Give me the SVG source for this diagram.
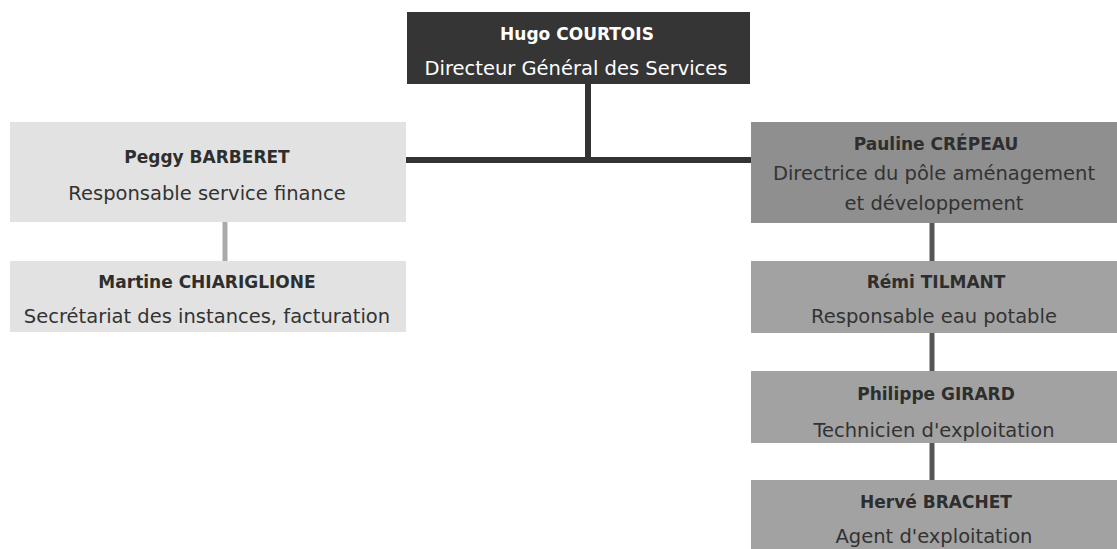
<svg xmlns="http://www.w3.org/2000/svg" width="1117" height="549" viewBox="0 0 1117 549">
<style>
  .name { font-family: "DejaVu Sans", "Liberation Sans", sans-serif; font-weight: bold; font-size: 17px; text-anchor: middle; fill: #2e2e2e; }
  .role { font-family: "DejaVu Sans", "Liberation Sans", sans-serif; font-size: 19.5px; text-anchor: middle; fill: #333; }
  .top .name, .top .role { fill: #ffffff; }
  .boxTop { fill: #353535; }
  .boxLight { fill: #e2e2e2; }
  .boxDark { fill: #8f8f8f; }
  .boxMid { fill: #a2a2a2; }
  .lnMain { stroke: #333; stroke-width: 6; fill: none; }
  .lnLight { stroke: #aaaaaa; stroke-width: 5; fill: none; }
  .lnRight { stroke: #555; stroke-width: 5; fill: none; }
</style>
<rect width="1117" height="549" fill="#ffffff"/>
<g id="connectors">
  <line class="lnMain" x1="588" y1="84" x2="588" y2="160"/>
  <line class="lnMain" x1="406" y1="160" x2="752" y2="160"/>
  <line class="lnLight" x1="225" y1="222" x2="225" y2="261"/>
  <line class="lnRight" x1="932" y1="223" x2="932" y2="261"/>
  <line class="lnRight" x1="932" y1="333" x2="932" y2="371"/>
  <line class="lnRight" x1="932" y1="443" x2="932" y2="480"/>
</g>
<g id="node-courtois" class="top">
  <rect class="boxTop" x="407" y="12" width="343" height="72"/>
  <text class="name" x="577" y="40">Hugo COURTOIS</text>
  <text class="role" x="576" y="75">Directeur Général des Services</text>
</g>
<g id="node-barberet">
  <rect class="boxLight" x="10" y="122" width="396" height="100"/>
  <text class="name" x="207" y="163">Peggy BARBERET</text>
  <text class="role" x="207" y="200">Responsable service finance</text>
</g>
<g id="node-chiariglione">
  <rect class="boxLight" x="10" y="261" width="396" height="71"/>
  <text class="name" x="207" y="288">Martine CHIARIGLIONE</text>
  <text class="role" x="207" y="323">Secrétariat des instances, facturation</text>
</g>
<g id="node-crepeau">
  <rect class="boxDark" x="751" y="122" width="366" height="101"/>
  <text class="name" x="936" y="150">Pauline CRÉPEAU</text>
  <text class="role" x="934" y="180">Directrice du pôle aménagement</text>
  <text class="role" x="934" y="210">et développement</text>
</g>
<g id="node-tilmant">
  <rect class="boxMid" x="751" y="261" width="366" height="72"/>
  <text class="name" x="936" y="288">Rémi TILMANT</text>
  <text class="role" x="934" y="323">Responsable eau potable</text>
</g>
<g id="node-girard">
  <rect class="boxMid" x="751" y="371" width="366" height="72"/>
  <text class="name" x="936" y="400">Philippe GIRARD</text>
  <text class="role" x="934" y="437">Technicien d'exploitation</text>
</g>
<g id="node-brachet">
  <rect class="boxMid" x="751" y="480" width="366" height="69"/>
  <text class="name" x="936" y="508">Hervé BRACHET</text>
  <text class="role" x="934" y="543">Agent d'exploitation</text>
</g>
</svg>
